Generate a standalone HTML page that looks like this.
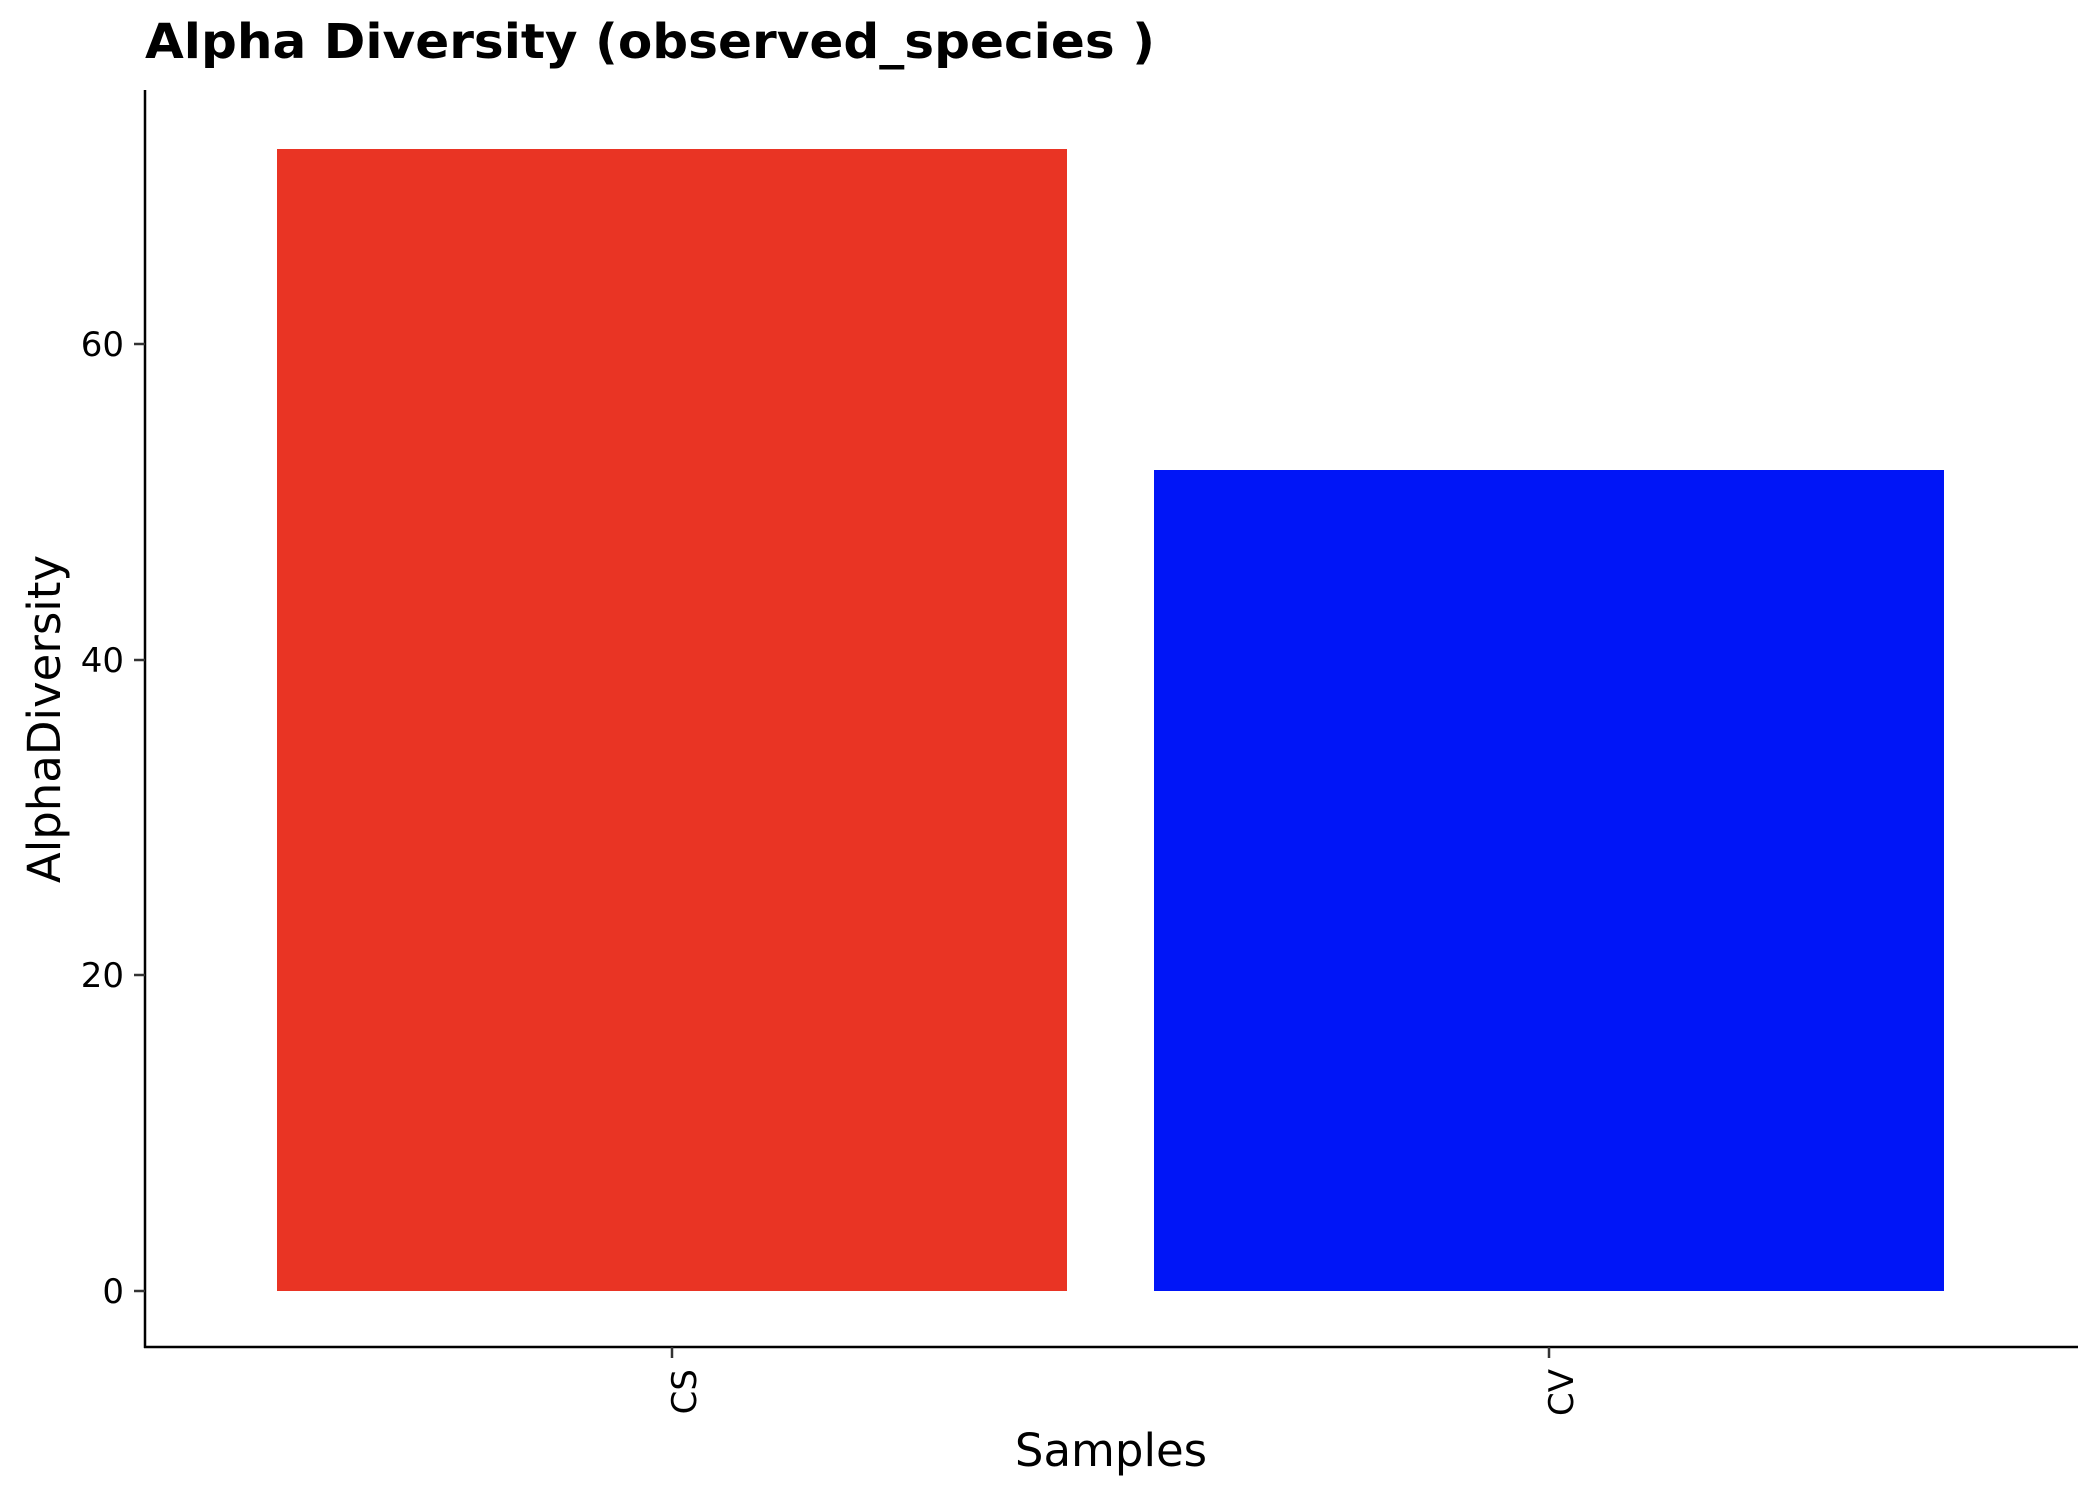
<!DOCTYPE html>
<html><head><meta charset="utf-8"><style>html,body{margin:0;padding:0;background:#fff}svg{display:block}</style></head>
<body>
<svg width="2100" height="1499" viewBox="0 0 2100 1499" xmlns="http://www.w3.org/2000/svg" font-family="DejaVu Sans, Liberation Sans, sans-serif">
<rect width="2100" height="1499" fill="#fff"/>
<text x="145" y="58" font-size="48" font-weight="bold" textLength="1010" lengthAdjust="spacingAndGlyphs">Alpha Diversity (observed_species )</text>
<rect x="277" y="149" width="790" height="1142" fill="#E93424"/>
<rect x="1154" y="470" width="790" height="821" fill="#0015F7"/>
<line x1="145" y1="90" x2="145" y2="1348" stroke="#000" stroke-width="2.5"/>
<line x1="144" y1="1347" x2="2078" y2="1347" stroke="#000" stroke-width="2.5"/>
<g stroke="#333" stroke-width="2.5">
<line x1="134" y1="344" x2="145" y2="344"/><line x1="134" y1="660" x2="145" y2="660"/>
<line x1="134" y1="975" x2="145" y2="975"/><line x1="134" y1="1291" x2="145" y2="1291"/>
<line x1="672" y1="1347" x2="672" y2="1358"/><line x1="1549" y1="1347" x2="1549" y2="1358"/>
</g>
<g font-size="34" text-anchor="end" fill="#000">
<text x="124" y="356">60</text><text x="124" y="672">40</text>
<text x="124" y="987">20</text><text x="124" y="1303">0</text>
</g>
<text transform="translate(696,1369) rotate(-90)" font-size="34" text-anchor="end">CS</text>
<text transform="translate(1573,1369) rotate(-90)" font-size="34" text-anchor="end">CV</text>
<text x="1111" y="1466" font-size="45" text-anchor="middle">Samples</text>
<text transform="translate(60,719) rotate(-90)" font-size="45" text-anchor="middle">AlphaDiversity</text>
</svg>
</body></html>
